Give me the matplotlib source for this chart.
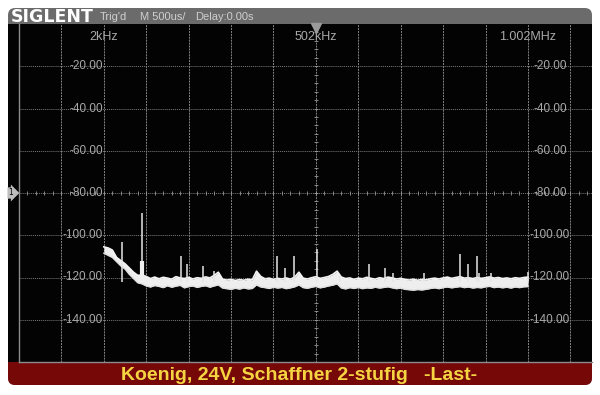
import matplotlib.pyplot as plt
import numpy as np
from matplotlib.patches import FancyBboxPatch, Rectangle

# FFT trace, sampled every 10 kHz from 2 kHz to 1.002 MHz (peak envelope of the band)
freqs = np.arange(2, 1003, 10)
upper = [-105.5, -106.0, -107.0, -110.5, -112.0, -113.5, -115.5, -117.5, -119.0, -118.8,
         -119.5, -120.5, -119.8, -120.6, -119.9, -120.3, -120.8, -119.6, -120.2, -120.5,
         -119.9, -120.7, -120.1, -120.4, -119.7, -120.2, -119.0, -117.5, -120.8, -121.2,
         -120.9, -121.4, -121.0, -121.3, -120.8, -121.1, -117.0, -119.5, -120.6, -120.3,
         -120.9, -120.4, -120.7, -120.2, -120.8, -119.8, -117.5, -120.3, -120.7, -120.1,
         -119.6, -120.4, -120.0, -119.5, -118.5, -117.0, -119.8, -120.5, -120.2, -120.9,
         -120.3, -120.6, -119.9, -120.4, -120.8, -120.1, -120.5, -119.8, -120.2, -120.7,
         -120.4, -120.9, -121.2, -120.8, -121.3, -120.9, -121.1, -120.6, -120.3, -120.7,
         -120.2, -119.8, -120.4, -120.0, -119.6, -120.3, -120.1, -120.5, -120.0, -120.4,
         -120.1, -119.7, -120.3, -120.0, -120.5, -120.2, -120.6, -120.1, -120.4, -120.0,
         -119.8]
lower = [-108.5, -109.5, -110.5, -112.5, -114.5, -116.0, -118.5, -120.5, -122.5, -123.0,
         -124.0, -124.5, -123.8, -124.2, -124.8, -123.9, -124.6, -124.1, -123.7, -124.9,
         -124.3, -124.0, -124.7, -124.2, -123.9, -124.6, -124.0, -123.5, -125.0, -125.3,
         -125.6, -125.1, -125.5, -124.9, -125.4, -125.2, -123.5, -124.5, -124.8, -125.2,
         -124.6, -125.0, -124.7, -125.3, -124.9, -124.4, -123.5, -124.8, -125.1, -124.6,
         -124.2, -124.9, -124.5, -124.0, -123.6, -123.0, -125.0, -125.4, -124.8, -125.2,
         -124.7, -125.3, -124.9, -125.1, -124.6, -125.0, -124.7, -124.4, -124.9, -125.3,
         -125.0, -125.6, -125.8, -126.0, -125.7, -125.9, -125.6, -125.2, -124.9, -125.3,
         -124.8, -124.5, -124.9, -124.6, -124.3, -124.8, -124.5, -125.0, -124.7, -124.9,
         -124.4, -124.2, -124.8, -124.5, -124.9, -124.6, -125.0, -124.5, -124.8, -124.4,
         -124.3]

# narrow spurs sticking out of the noise floor
spike_f = [44, 92, 185, 197, 235, 261, 410, 430, 450, 504, 560, 627, 666, 684, 757,
           842, 860, 881, 886, 914, 1001]
spike_db = [-103, -89.5, -110, -113.6, -114.4, -117, -110, -115.3, -110, -106.5, -119,
            -113.6, -115.3, -118, -117.7, -109, -113.6, -110, -118, -117.7, -117.2]
# thicker foot of the big spur
foot_f = [92]
foot_db = [-112]

level_ticks = [-20, -40, -60, -80, -100, -120, -140]
freq_labels = ['2kHz', '502kHz', '1.002MHz']
freq_label_pos = [2, 502, 1002]

W, H = 600, 395
fig = plt.figure(figsize=(6, 3.95), dpi=100)
fig.patch.set_facecolor('white')

def fx(px):
    return px / W

def fy(py):
    return 1 - py / H

# screen frame: grey header, black screen, red caption bar
fig.patches.append(FancyBboxPatch((fx(8), fy(385)), fx(592) - fx(8), fy(8) - fy(385),
                                  boxstyle='round,pad=0,rounding_size=0.012', mutation_aspect=1.5,
                                  transform=fig.transFigure, fc='#6b6b6b', ec='none', zorder=0))
fig.patches.append(FancyBboxPatch((fx(8), fy(385)), fx(592) - fx(8), fy(350) - fy(385),
                                  boxstyle='round,pad=0,rounding_size=0.012', mutation_aspect=1.5,
                                  transform=fig.transFigure, fc='#760808', ec='none', zorder=1))
fig.patches.append(Rectangle((fx(8), fy(362)), fx(592) - fx(8), fy(24) - fy(362),
                             transform=fig.transFigure, fc='#030303', ec='none', zorder=2))

# header texts
fig.text(fx(11), fy(16.5), 'SIGLENT', color='white', fontsize=12.5, fontweight='bold',
         family='DejaVu Sans', va='center', ha='left', zorder=5)
hdr = dict(color='#cfcfcf', fontsize=8, family='Liberation Sans', va='center', ha='left', zorder=5)
fig.text(fx(100), fy(16.5), "Trig'd", **hdr)
fig.text(fx(140), fy(16.5), 'M 500us/', **hdr)
fig.text(fx(195), fy(16.5), 'Delay:0.00s', **hdr)

# caption
fig.text(fx(299), fy(375), 'Koenig, 24V, Schaffner 2-stufig   -Last-', color='#f5d442',
         fontsize=14, fontweight='bold', family='Liberation Sans',
         va='center', ha='center', zorder=5)

# channel marker
fig.text(fx(11), fy(193), '1', color='black', fontsize=5.5, va='center', ha='center', zorder=6,
         bbox=dict(boxstyle='rarrow,pad=0.15', fc='#bdbdbd', ec='none'))

# plot area
ax = fig.add_axes([fx(19), fy(362), fx(592) - fx(19), (362 - 24) / H])
ax.set_facecolor('none')
ax.set_zorder(3)
ax.set_xlim(-198, 1153)
ax.set_ylim(-160, 0)
ax.set_xticks([])
ax.set_yticks([])
ax.spines['top'].set_visible(False)
ax.spines['right'].set_visible(False)
for s in ['left', 'bottom']:
    ax.spines[s].set_color('#8c8c8c')
    ax.spines[s].set_linewidth(1)

# graticule
for x in range(-98, 1103, 100):
    ax.axvline(x, color='#858585', lw=0.7, ls=(0, (2, 1)), zorder=1)
for y in range(-20, -160, -20):
    ax.axhline(y, color='#7a7a7a', lw=0.7, ls=(0, (1, 1)), zorder=1)
# centre axes with minor ticks
hx = np.arange(-178, 1153, 20)
vy = np.arange(-156, 0, 4)
ax.plot(hx, np.full(len(hx), -80), ls='none', marker='|', ms=2.5, mew=0.6,
        color='#9a9a9a', zorder=1)
ax.plot(np.full(len(vy), 502), vy, ls='none', marker='_', ms=2.5, mew=0.6,
        color='#9a9a9a', zorder=1)

# level labels on both sides
for lv in level_ticks:
    ax.text(0, lv, f'{lv:.2f}', color='#a9a9a9', fontsize=8.5, family='Liberation Sans',
            ha='right', va='center', zorder=2)
    ax.text(1054, lv, f'{lv:.2f}', color='#a9a9a9', fontsize=8.5, family='Liberation Sans',
            ha='center', va='center', zorder=2)
for f, lab in zip(freq_label_pos, freq_labels):
    ax.text(f, -6, lab, color='#a9a9a9', fontsize=9, family='Liberation Sans',
            ha='center', va='center', zorder=2)

# trigger position marker
ax.plot([502], [-2], marker='v', ms=7, color='#9a9a9a', clip_on=False, zorder=4)

# trace
ax.fill_between(freqs, lower, upper, color='#eeeeee', lw=0, zorder=3)
ax.plot(freqs, upper, color='#f4f4f4', lw=1.2, zorder=3)
ax.plot(freqs, lower, color='#e0e0e0', lw=1.0, zorder=3)
ax.vlines(spike_f, -122, spike_db, color='#e6e6e6', lw=1.1, zorder=3)
ax.vlines(foot_f, -122, foot_db, color='#f0f0f0', lw=3, zorder=3)

fig.savefig('out.png', dpi=100, facecolor='white')
